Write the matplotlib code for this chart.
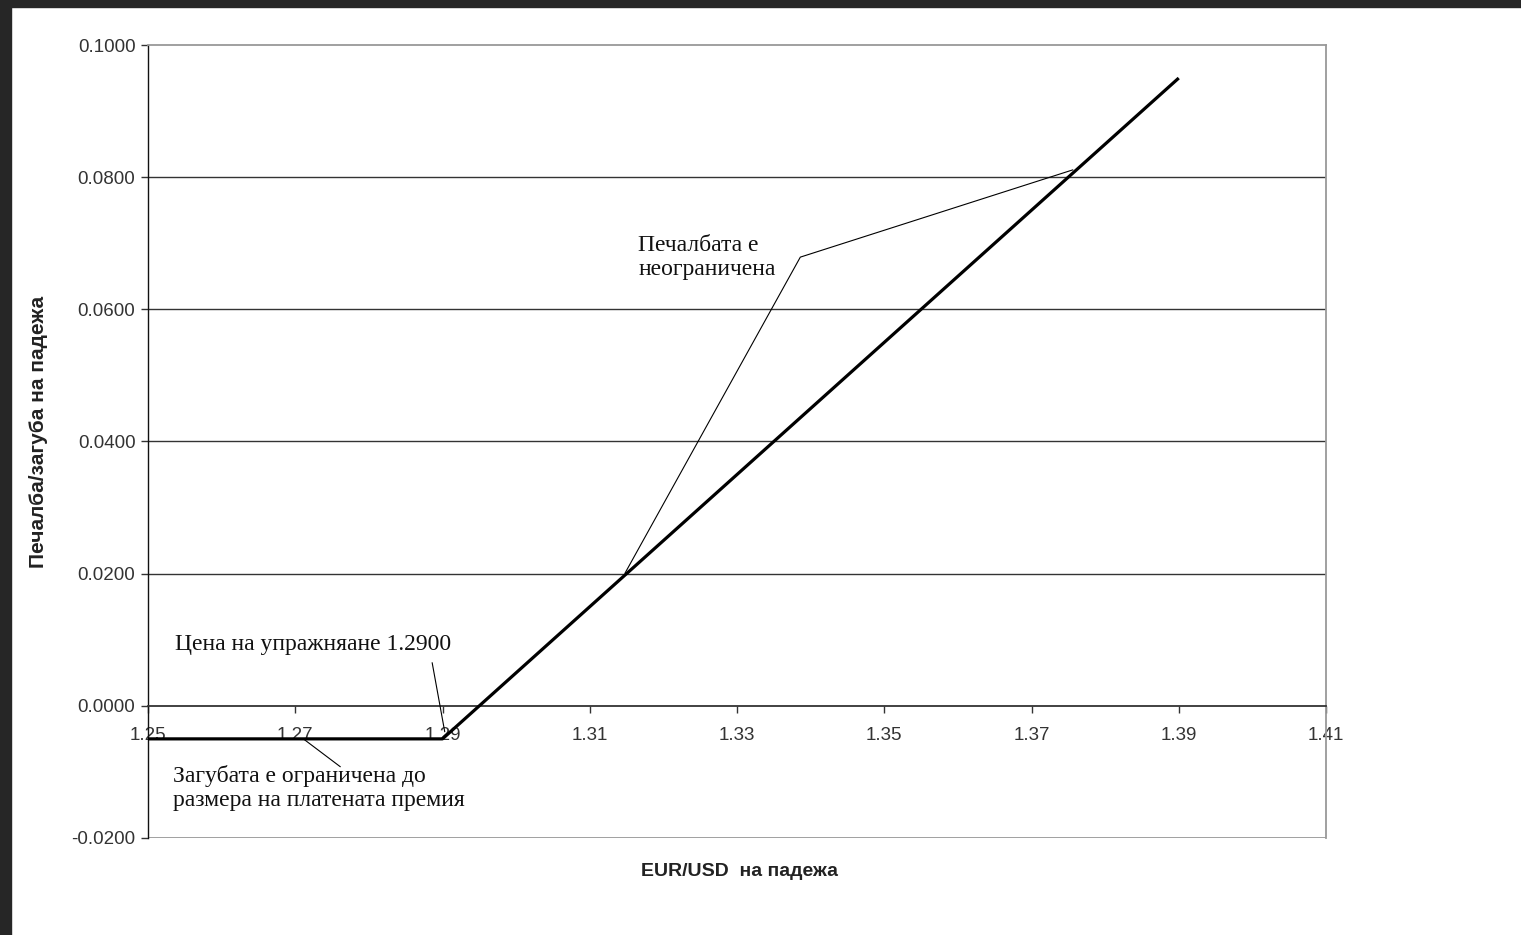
import matplotlib
matplotlib.use('Agg')
import matplotlib.pyplot as plt
from matplotlib.patches import Rectangle
from matplotlib.ticker import FormatStrFormatter

# EUR/USD at expiry and profit/loss of the long call (strike 1.29, premium 0.005)
spot = [1.25, 1.26, 1.27, 1.28, 1.29, 1.30, 1.31, 1.32, 1.33, 1.34, 1.35, 1.36, 1.37, 1.38, 1.39]
payoff = [-0.005, -0.005, -0.005, -0.005, -0.005, 0.005, 0.015, 0.025, 0.035, 0.045,
          0.055, 0.065, 0.075, 0.085, 0.095]

x_ticks = [1.25, 1.27, 1.29, 1.31, 1.33, 1.35, 1.37, 1.39, 1.41]
y_ticks = [-0.02, 0.0, 0.02, 0.04, 0.06, 0.08, 0.10]

# callouts: text, text anchor (baseline of the last line), leader line points
profit_text = 'Печалбата е\nнеограничена'
profit_xy = (1.3166, 0.0652)
profit_leader_x = [1.3756, 1.3386, 1.3148]
profit_leader_y = [0.0811, 0.0679, 0.0201]

strike_text = 'Цена на упражняане 1.2900'
strike_xy = (1.2537, 0.0085)
strike_leader_x = [1.2886, 1.2903]
strike_leader_y = [0.0065, -0.0039]

loss_text = 'Загубата е ограничена до\nразмера на платената премия'
loss_xy = (1.2534, -0.0152)
loss_leader_x = [1.2711, 1.2761]
loss_leader_y = [-0.0050, -0.0092]

fig = plt.figure(figsize=(15.21, 9.35), dpi=100)
fig.patch.set_facecolor('white')
# dark frame on the left and top of the screenshot
fig.patches.append(Rectangle((0, 0), 11 / 1521, 1, transform=fig.transFigure,
                             color='#262626', zorder=0))
fig.patches.append(Rectangle((0, 1 - 7 / 935), 1, 7 / 935, transform=fig.transFigure,
                             color='#262626', zorder=0))

ax = fig.add_axes([148 / 1521, 1 - 838 / 935, 1178 / 1521, 793 / 935])
ax.set_xlim(1.25, 1.41)
ax.set_ylim(-0.02, 0.10)

# horizontal gridlines
for y in y_ticks[2:-1]:
    ax.axhline(y, color='#333333', lw=1.0, zorder=1)
ax.axhline(-0.02, color='#999999', lw=1.3, zorder=1)

ax.plot(spot, payoff, color='black', lw=2.3, zorder=3, solid_capstyle='butt')

# leader lines
ax.plot(profit_leader_x, profit_leader_y, color='black', lw=0.8, zorder=4)
ax.plot(strike_leader_x, strike_leader_y, color='black', lw=0.8, zorder=4)
ax.plot(loss_leader_x, loss_leader_y, color='black', lw=0.8, zorder=4)

serif = dict(family='Liberation Serif', fontsize=17, color='#111111', linespacing=1.2)
ax.text(profit_xy[0], profit_xy[1], profit_text, va='baseline', ha='left', **serif)
ax.text(strike_xy[0], strike_xy[1], strike_text, va='baseline', ha='left', **serif)
ax.text(loss_xy[0], loss_xy[1], loss_text, va='baseline', ha='left', **serif)

# spines
ax.spines['bottom'].set_position(('data', 0))
ax.spines['bottom'].set_color('#333333')
ax.spines['bottom'].set_linewidth(1.3)
ax.spines['left'].set_color('#111111')
ax.spines['left'].set_linewidth(1.0)
ax.spines['top'].set_color('#999999')
ax.spines['top'].set_linewidth(1.3)
ax.spines['right'].set_color('#999999')
ax.spines['right'].set_linewidth(1.3)

ax.set_xticks(x_ticks)
ax.set_yticks(y_ticks)
ax.xaxis.set_major_formatter(FormatStrFormatter('%.2f'))
ax.yaxis.set_major_formatter(FormatStrFormatter('%.4f'))
ax.tick_params(axis='x', direction='out', length=5, width=1, pad=10.5,
               labelsize=13.5, labelcolor='#333333', color='#333333')
ax.tick_params(axis='y', direction='out', length=5, width=1, pad=4,
               labelsize=13.5, labelcolor='#333333', color='#333333')
for lbl in ax.get_xticklabels() + ax.get_yticklabels():
    lbl.set_family('Liberation Sans')

ax.set_ylabel('Печалба/загуба на падежа', family='Liberation Sans', fontsize=15,
              fontweight='bold', color='#222222')
ax.yaxis.set_label_coords(-0.085, 0.512)
ax.set_xlabel('EUR/USD  на падежа', family='Liberation Sans', fontsize=14,
              fontweight='bold', color='#222222')
ax.xaxis.set_label_coords(0.502, -0.0314)

plt.savefig('out.png', dpi=100)
